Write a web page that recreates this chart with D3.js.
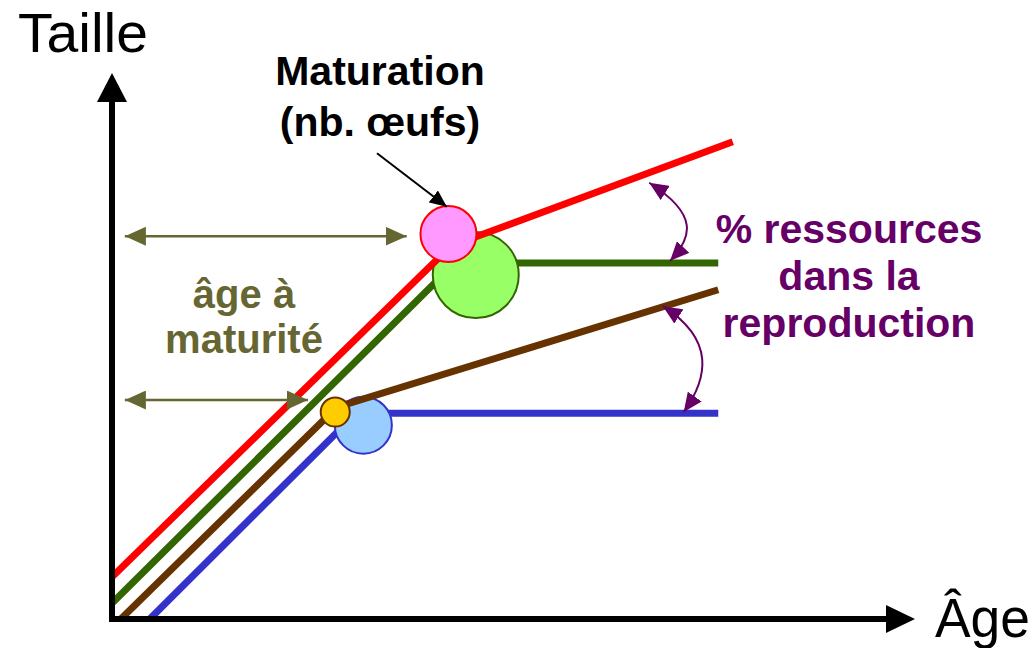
<!DOCTYPE html>
<html>
<head>
<meta charset="utf-8">
<script src="https://cdn.jsdelivr.net/npm/d3@7"></script>
<style>
  body { margin: 0; background: #fff; }
  svg { display: block; font-family: "Liberation Sans", Arial, sans-serif; }
</style>
</head>
<body>
<svg id="fig" width="1035" height="648"></svg>
<script>
// growth trajectories: [age, size] points (kink = age at maturity)
const growthRed = [[0, 7.7], [42.2, 68.3], [77.3, 87.4]];
const growthGreen = [[0, 2.9], [42.7, 65.2], [75.5, 65.2]];
const growthBrown = [[1.1, 0], [28.0, 38.8], [75.5, 60.3]];
const growthBlue = [[4.7, 0], [30.4, 37.7], [75.5, 37.7]];

// maturation events: age, size, number of eggs
const maturationAge = [31.3, 27.8, 45.3, 41.9];
const maturationSize = [35.5, 37.9, 63.0, 70.5];
const eggCount = [44, 11.4, 100, 42.4];

// annotation arrows
const ageArrowUpper = [[1.6, 70.1], [36.7, 70.1]];
const ageArrowLower = [[1.6, 40.1], [24.4, 40.1]];
const resArrowUpper = [[66.9, 79.9], [73.2, 74.0], [72.2, 69.8], [69.5, 65.6]];
const resArrowLower = [[68.6, 57.3], [75.2, 51.1], [74.2, 44.1], [71.2, 37.9]];
const eggArrow = [[33.0, 85.3], [41.7, 75.5]];

let svg = d3.select('#fig');

let x = d3.scaleLinear().domain([0, 100]).range([112, 915]);
let y = d3.scaleLinear().domain([0, 100]).range([619, 73]);
let r = d3.scaleSqrt().domain([0, 100]).range([0, 43]);

let line = d3.line()
    .x(function (d) { return x(d[0]); })
    .y(function (d) { return y(d[1]); });

let defs = svg.append('defs');
function marker(id, color, len, half) {
    defs.append('marker')
        .attr('id', id)
        .attr('viewBox', '0 0 ' + len + ' ' + (half * 2))
        .attr('refX', len)
        .attr('refY', half)
        .attr('markerWidth', len)
        .attr('markerHeight', half * 2)
        .attr('markerUnits', 'userSpaceOnUse')
        .attr('orient', 'auto-start-reverse')
        .append('path')
        .attr('d', 'M0,0L' + len + ',' + half + 'L0,' + (half * 2) + 'Z')
        .attr('fill', color);
}
marker('olive', '#666633', 21, 9.5);
marker('purple', '#660066', 19, 8.5);
marker('black', '#000', 17, 7.5);

// draw order: each trajectory then its circle
let layers = [
    { pts: growthBlue, color: '#3333cc', c: 0, fill: '#99ccff' },
    { pts: growthBrown, color: '#663300', c: 1, fill: '#ffcc00' },
    { pts: growthGreen, color: '#336600', c: 2, fill: '#99ff66' },
    { pts: growthRed, color: '#ff0000', c: 3, fill: '#ff99ff' }
];

layers.forEach(function (l) {
    svg.append('path')
        .attr('d', line(l.pts))
        .attr('fill', 'none')
        .attr('stroke', l.color)
        .attr('stroke-width', 7);
    svg.append('circle')
        .attr('cx', x(maturationAge[l.c]))
        .attr('cy', y(maturationSize[l.c]))
        .attr('r', r(eggCount[l.c]))
        .attr('fill', l.fill)
        .attr('stroke', l.color)
        .attr('stroke-width', 2);
});

// axes
svg.append('line')
    .attr('x1', x(0)).attr('y1', y(0) + 3)
    .attr('x2', x(0)).attr('y2', y(100) + 28)
    .attr('stroke', '#000').attr('stroke-width', 6);
svg.append('path')
    .attr('d', 'M' + x(0) + ',' + y(100) + 'L' + (x(0) + 15) + ',' + (y(100) + 29) +
        'L' + (x(0) - 15) + ',' + (y(100) + 29) + 'Z')
    .attr('fill', '#000');
svg.append('line')
    .attr('x1', x(0) - 3).attr('y1', y(0))
    .attr('x2', x(100) - 28).attr('y2', y(0))
    .attr('stroke', '#000').attr('stroke-width', 6);
svg.append('path')
    .attr('d', 'M' + x(100) + ',' + y(0) + 'L' + (x(100) - 29) + ',' + (y(0) - 14) +
        'L' + (x(100) - 29) + ',' + (y(0) + 14) + 'Z')
    .attr('fill', '#000');

svg.append('text').attr('x', 18).attr('y', 52)
    .attr('font-size', 55)
    .attr('textLength', 130).attr('lengthAdjust', 'spacingAndGlyphs')
    .text('Taille');
svg.append('text').attr('x', 935).attr('y', 637)
    .attr('font-size', 55)
    .attr('textLength', 95).attr('lengthAdjust', 'spacingAndGlyphs')
    .text('Âge');

// annotation arrows
[ageArrowUpper, ageArrowLower].forEach(function (a) {
    svg.append('path')
        .attr('d', line(a))
        .attr('fill', 'none')
        .attr('stroke', '#666633')
        .attr('stroke-width', 2.5)
        .attr('marker-start', 'url(#olive)')
        .attr('marker-end', 'url(#olive)');
});

let curve = function (p) {
    return 'M' + x(p[0][0]) + ',' + y(p[0][1]) + 'C' +
        p.slice(1).map(function (d) { return x(d[0]) + ',' + y(d[1]); }).join(' ');
};
[resArrowUpper, resArrowLower].forEach(function (a) {
    svg.append('path')
        .attr('d', curve(a))
        .attr('fill', 'none')
        .attr('stroke', '#660066')
        .attr('stroke-width', 2)
        .attr('marker-start', 'url(#purple)')
        .attr('marker-end', 'url(#purple)');
});

svg.append('path')
    .attr('d', line(eggArrow))
    .attr('fill', 'none')
    .attr('stroke', '#000')
    .attr('stroke-width', 2)
    .attr('marker-end', 'url(#black)');

// labels
function label(lines, cx, y0, dy, color, size) {
    let t = svg.append('text')
        .attr('text-anchor', 'middle')
        .attr('font-size', size)
        .attr('font-weight', 'bold')
        .attr('fill', color);
    lines.forEach(function (s, i) {
        t.append('tspan').attr('x', cx).attr('y', y0 + i * dy).text(s);
    });
}
label(['Maturation', '(nb. œufs)'], 380, 85, 51, '#000', 41);
label(['âge à', 'maturité'], 244, 308, 45, '#666633', 40);
label(['% ressources', 'dans la', 'reproduction'], 849, 243, 47, '#660066', 41);
</script>
</body>
</html>
